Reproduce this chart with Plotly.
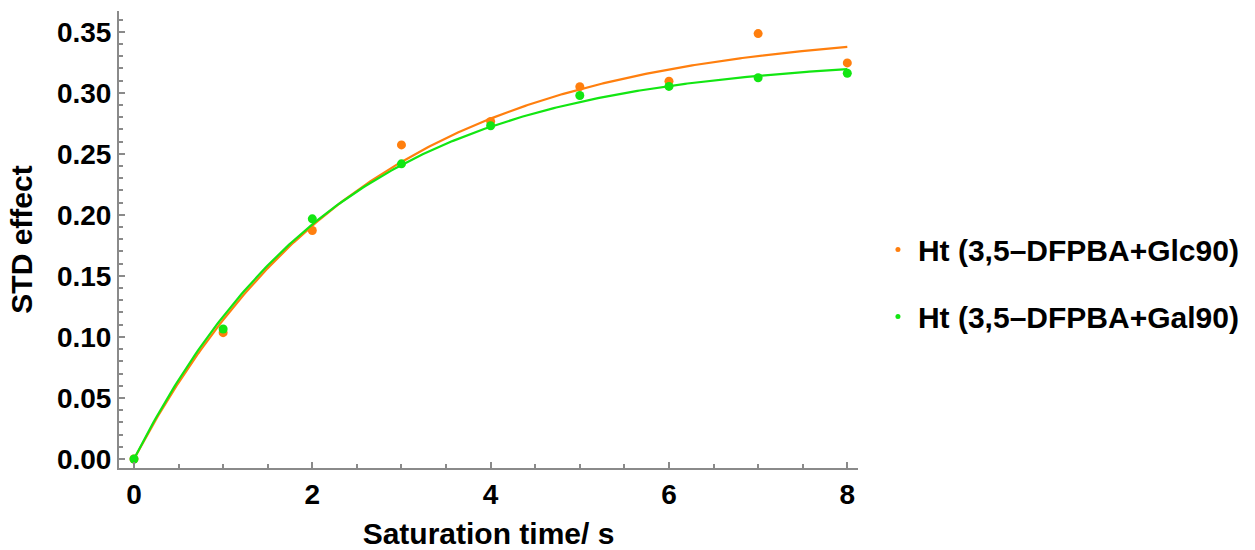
import numpy as np
import plotly.graph_objects as go

# Saturation-transfer build-up data (STD effect vs saturation time)
t_sat = [0, 1, 2, 3, 4, 5, 6, 7, 8]
std_glc = [0.0, 0.1035, 0.1872, 0.2573, 0.2765, 0.3050, 0.3095, 0.3485, 0.3245]
std_gal = [0.0, 0.1065, 0.1967, 0.2418, 0.2730, 0.2978, 0.3052, 0.3123, 0.3160]
series_names = ["Ht (3,5\u2013DFPBA+Glc90)", "Ht (3,5\u2013DFPBA+Gal90)"]
series_colors = ["#FF7F0E", "#12E612"]

x_ticks = [0, 2, 4, 6, 8]
y_ticks = [0.00, 0.05, 0.10, 0.15, 0.20, 0.25, 0.30, 0.35]


def fit_buildup(t, y):
    """Least-squares fit of y = a * (1 - exp(-k t)); a solved in closed form for each k."""
    t = np.asarray(t, float)
    y = np.asarray(y, float)
    best = None
    for k in np.linspace(0.05, 2.0, 39001):
        g = 1.0 - np.exp(-k * t)
        a = float(g @ y / (g @ g))
        r = float(np.sum((y - a * g) ** 2))
        if best is None or r < best[0]:
            best = (r, a, k)
    return best[1], best[2]


FONT = "Liberation Sans, Arial, sans-serif"
fig = go.Figure()
t_fine = np.linspace(0, 8, 300)

for name, ys, col in zip(series_names, [std_glc, std_gal], series_colors):
    a, k = fit_buildup(t_sat, ys)
    fig.add_trace(go.Scatter(x=t_fine, y=a * (1 - np.exp(-k * t_fine)), mode="lines",
                             line=dict(color=col, width=2.2), showlegend=False,
                             hoverinfo="skip"))
    fig.add_trace(go.Scatter(x=t_sat, y=ys, mode="markers",
                             marker=dict(color=col, size=9), showlegend=False,
                             name=name))

# legend entries with small dots
for i, (name, col) in enumerate(zip(series_names, series_colors)):
    fig.add_trace(go.Scatter(x=[None], y=[None], mode="markers", name=name,
                             legendgroup=f"g{i}",
                             marker=dict(color=col, size=5)))

axis_common = dict(
    showline=True, linecolor="#8a8a8a", linewidth=2,
    ticks="inside", tickcolor="#8a8a8a", tickwidth=1.5, ticklen=6,
    showgrid=False, zeroline=False, mirror=False, automargin=False,
    tickfont=dict(family=FONT, size=28, color="black", weight="bold"),
)

fig.update_xaxes(
    range=[-0.168, 8.12], tickvals=x_ticks, ticktext=[str(v) for v in x_ticks],
    minor=dict(dtick=0.5, tick0=0, ticks="inside", ticklen=4, tickcolor="#8a8a8a", tickwidth=1.5),
    title=dict(text="<b>Saturation time/ s</b>", font=dict(family=FONT, size=30, color="black")),
    **axis_common,
)
fig.update_yaxes(
    range=[-0.0074, 0.367], tickvals=y_ticks, ticktext=[f"{v:.2f}" for v in y_ticks],
    minor=dict(dtick=0.01, tick0=0, ticks="inside", ticklen=4, tickcolor="#8a8a8a", tickwidth=1.5),
    title=dict(text="<b>STD effect</b>", font=dict(family=FONT, size=30, color="black")),
    **axis_common,
)

fig.update_layout(
    width=1255, height=550,
    margin=dict(l=119, r=397, t=11, b=82),
    plot_bgcolor="white", paper_bgcolor="white",
    legend=dict(x=1.027, y=0.405, xanchor="left", yanchor="middle",
                font=dict(family=FONT, size=30, color="black", weight="bold"),
                tracegroupgap=25, itemwidth=30),
)

fig.write_html("out.html")
